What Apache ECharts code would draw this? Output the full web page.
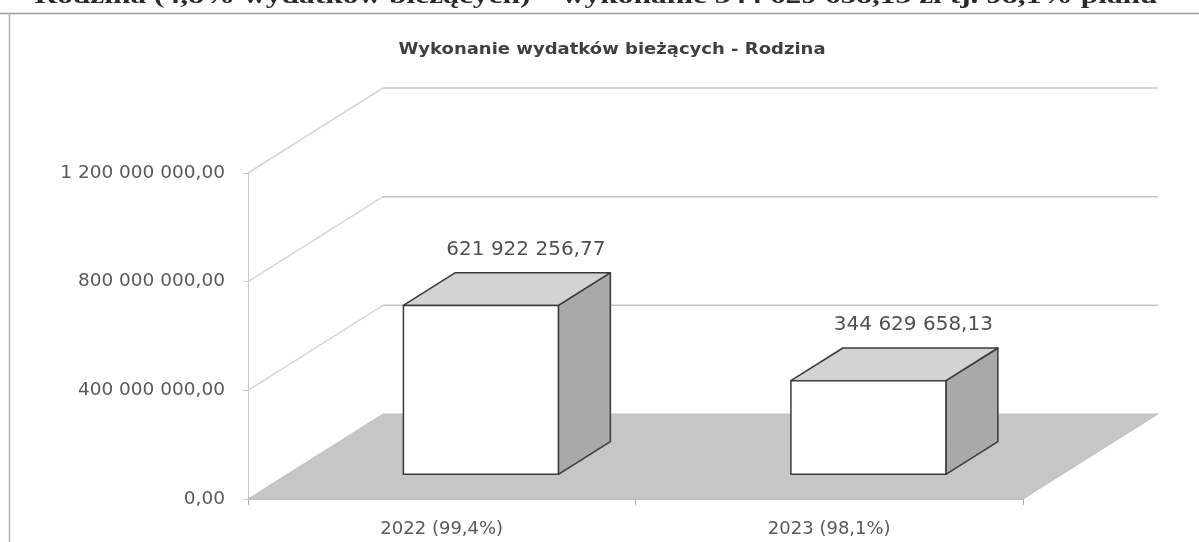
<!DOCTYPE html>
<html>
<head>
<meta charset="utf-8">
<script src="https://cdn.jsdelivr.net/npm/echarts@6/dist/echarts.min.js"></script>
<style>
html,body{margin:0;padding:0;background:#fff;}
#chart{width:1199px;height:542px;}
</style>
</head>
<body>
<div id="chart"></div>
<script>
// ---- data ----
const categories = ['2022 (99,4%)', '2023 (98,1%)'];
const values = [621922256.77, 344629658.13];
const yTicks = [0, 400000000, 800000000, 1200000000];
const chartTitle = 'Wykonanie wydatków bieżących - Rodzina';
const headerText = 'Rodzina (4,8% wydatków bieżących) – wykonanie 344 629 658,13 zł tj. 98,1% planu';

// ---- style constants ----
const DX = 135, DY = -85;          // depth of the 3D box
const FRONT = 0.29, DEPTH = 0.385; // bar front position / bar depth (fraction)
const BAR_W = 0.4;

function fmt(v) {
  const parts = Number(v).toFixed(2).split('.');
  return parts[0].replace(/\B(?=(\d{3})+(?!\d))/g, ' ') + ',' + parts[1];
}

const chart = echarts.init(document.getElementById('chart'), null, {renderer: 'canvas'});

const option = {
  animation: false,
  backgroundColor: '#ffffff',
  grid: {left: 248, right: 176, top: 173, bottom: 43},
  xAxis: {
    type: 'category',
    data: categories,
    axisLine: {show: true, lineStyle: {color: '#c2c2c2', width: 1}},
    axisTick: {show: true, length: 6, lineStyle: {color: '#a8a8a8'}},
    axisLabel: {color: '#595959', fontFamily: 'DejaVu Sans', fontSize: 18, margin: 21}
  },
  yAxis: {
    type: 'value',
    min: 0, max: 1200000000, interval: 400000000,
    axisLine: {show: true, lineStyle: {color: '#c8c8c8'}},
    axisTick: {show: true, length: 5, lineStyle: {color: '#c8c8c8'}},
    splitLine: {show: false},
    axisLabel: {color: '#595959', fontFamily: 'DejaVu Sans', fontSize: 18.5, margin: 23,
      padding: [9, 0, 0, 0], formatter: fmt}
  },
  graphic: [
    {type: 'line', shape: {x1: 0, y1: 13.5, x2: 1199, y2: 13.5}, style: {stroke: '#9a9a9a', lineWidth: 1.5}},
    {type: 'line', shape: {x1: 9.5, y1: 13, x2: 9.5, y2: 542}, style: {stroke: '#b0b0b0', lineWidth: 1.5}},
    {type: 'text', x: 596, y: 9, scaleX: 1.31, originX: 0,
      style: {text: headerText, font: 'bold 24px "Liberation Serif"', fill: '#2a2a2a', align: 'center', verticalAlign: 'bottom'}},
    {type: 'text', x: 612, y: 50, scaleX: 1.2, originX: 0,
      style: {text: chartTitle, font: 'bold 15px "DejaVu Sans"', fill: '#404040', align: 'center', verticalAlign: 'middle'}}
  ],
  series: [
    {
      type: 'custom', z: 1, silent: true, clip: false,
      encode: {x: 0, y: 1},
      data: [[0, 0]],
      renderItem: function (params, api) {
        const cs = params.coordSys;
        const y0 = api.coord([0, 0])[1];
        return {
          type: 'polygon',
          shape: {points: [[cs.x, y0], [cs.x + DX, y0 + DY], [cs.x + cs.width + DX, y0 + DY], [cs.x + cs.width, y0]]},
          style: {fill: '#c6c6c6', stroke: '#c0c0c0', lineWidth: 1}
        };
      }
    },
    {
      type: 'custom', z: 1, silent: true, clip: false,
      encode: {x: 0, y: 1},
      data: yTicks.filter(v => v > 0).map(v => [0, v]),
      renderItem: function (params, api) {
        const cs = params.coordSys;
        const y = api.coord([0, api.value(1)])[1];
        return {
          type: 'group',
          children: [
            {type: 'line', shape: {x1: cs.x, y1: y, x2: cs.x + DX, y2: y + DY}, style: {stroke: '#d6d6d6', lineWidth: 1.5}},
            {type: 'line', shape: {x1: cs.x + DX, y1: y + DY, x2: cs.x + cs.width + DX, y2: y + DY}, style: {stroke: '#c4c4c4', lineWidth: 1.5}}
          ]
        };
      }
    },
    {
      type: 'custom', z: 3, clip: false,
      encode: {x: 0, y: 1},
      data: values.map((v, i) => [i, v]),
      renderItem: function (params, api) {
        const idx = api.value(0), val = api.value(1);
        const top = api.coord([idx, val]);
        const base = api.coord([idx, 0]);
        const bw = api.size([1, 0])[0] * BAR_W;
        const fx = FRONT * DX, fy = FRONT * DY;
        const bx = DEPTH * DX, by = DEPTH * DY;
        const x0 = top[0] - bw / 2 + fx, x1 = top[0] + bw / 2 + fx;
        const yt = top[1] + fy, yb = base[1] + fy;
        const edge = '#3a3a3a';
        return {
          type: 'group',
          children: [
            {type: 'polygon', shape: {points: [[x1, yt], [x1 + bx, yt + by], [x1 + bx, yb + by], [x1, yb]]},
              style: {fill: '#a9a9a9', stroke: edge, lineWidth: 1.5, lineJoin: 'round'}},
            {type: 'polygon', shape: {points: [[x0, yt], [x0 + bx, yt + by], [x1 + bx, yt + by], [x1, yt]]},
              style: {fill: '#d3d3d3', stroke: edge, lineWidth: 1.5, lineJoin: 'round'}},
            {type: 'rect', shape: {x: x0, y: yt, width: x1 - x0, height: yb - yt},
              style: {fill: '#ffffff', stroke: edge, lineWidth: 1.5}},
            {type: 'text', x: (x0 + x1 + bx) / 2 + 19, y: yt + by - 23,
              style: {text: fmt(val), font: '20px "DejaVu Sans"', fill: '#505050', align: 'center', verticalAlign: 'middle'}}
          ]
        };
      }
    }
  ]
};
chart.setOption(option);
</script>
</body>
</html>
